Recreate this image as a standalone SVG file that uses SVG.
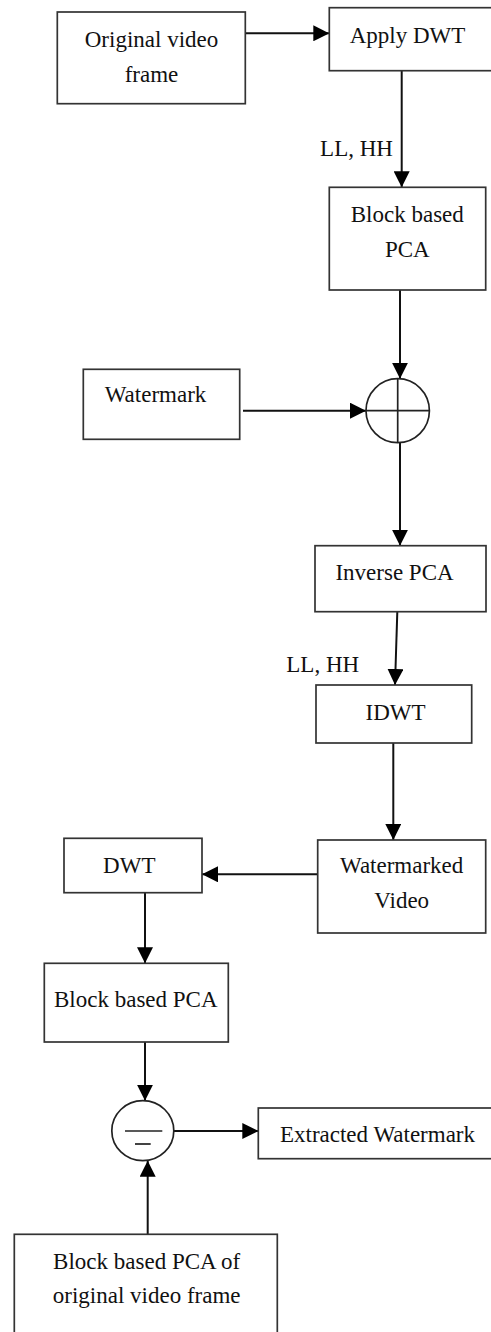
<svg xmlns="http://www.w3.org/2000/svg" width="491" height="1332" viewBox="0 0 491 1332">
<style>
.box{fill:#fff;stroke:#333;stroke-width:1.7}
.t{font-family:"Liberation Serif","Times New Roman",serif;font-size:23px;fill:#111;text-anchor:middle}
.c{stroke:#111;stroke-width:2;fill:none}
.sym{fill:#fff;stroke:#222;stroke-width:1.7}
.sl{stroke:#222;stroke-width:1.7}
</style>
<defs>
<marker id="ah" viewBox="0 0 16 16" refX="16" refY="8" markerWidth="16" markerHeight="16" markerUnits="userSpaceOnUse" orient="auto">
<path d="M0,0 L16,8 L0,16 z" fill="#000"/>
</marker>
</defs>
<rect width="491" height="1332" fill="#fff"/>
<g id="connectors">
<line class="c" x1="245.3" y1="33.3" x2="329.3" y2="33.3" marker-end="url(#ah)"/>
<line class="c" x1="401.7" y1="70.7" x2="401.7" y2="187.3" marker-end="url(#ah)"/>
<line class="c" x1="400" y1="290" x2="400" y2="378.7" marker-end="url(#ah)"/>
<line class="c" x1="243" y1="410.7" x2="366" y2="410.7" marker-end="url(#ah)"/>
<line class="c" x1="400" y1="442.7" x2="400" y2="545.7" marker-end="url(#ah)"/>
<line class="c" x1="397.3" y1="611.7" x2="395" y2="685" marker-end="url(#ah)"/>
<line class="c" x1="393.3" y1="743" x2="393.3" y2="840" marker-end="url(#ah)"/>
<line class="c" x1="317.7" y1="874.3" x2="202" y2="874.3" marker-end="url(#ah)"/>
<line class="c" x1="145" y1="892.7" x2="145" y2="963.3" marker-end="url(#ah)"/>
<line class="c" x1="145" y1="1042" x2="145" y2="1100.7" marker-end="url(#ah)"/>
<line class="c" x1="174" y1="1131" x2="258.3" y2="1131" marker-end="url(#ah)"/>
<line class="c" x1="147.7" y1="1234.3" x2="147.7" y2="1160.7" marker-end="url(#ah)"/>
<text class="t" x="356.5" y="156">LL, HH</text>
<text class="t" x="322.7" y="671.7">LL, HH</text>
</g>
<g id="original">
<rect class="box" x="57.3" y="12" width="188" height="91.7"/>
<text class="t" x="151.5" y="46.7">Original video</text>
<text class="t" x="151.5" y="81.7">frame</text>
</g>
<g id="applydwt">
<rect class="box" x="329.3" y="7.7" width="170" height="63"/>
<text class="t" x="407.5" y="43.3">Apply DWT</text>
</g>
<g id="blockpca1">
<rect class="box" x="329.3" y="187.3" width="156.4" height="102.7"/>
<text class="t" x="407.3" y="221.7">Block based</text>
<text class="t" x="407.3" y="256.7">PCA</text>
</g>
<g id="watermark">
<rect class="box" x="83.3" y="369.3" width="156.4" height="70"/>
<text class="t" x="155.5" y="402">Watermark</text>
</g>
<g id="adder">
<ellipse class="sym" cx="397.7" cy="410.7" rx="31.7" ry="32"/>
<line class="sl" x1="397.7" y1="378.7" x2="397.7" y2="442.7"/>
<line class="sl" x1="366" y1="410.7" x2="429.4" y2="410.7"/>
</g>
<g id="inversepca">
<rect class="box" x="315" y="545.7" width="171" height="66"/>
<text class="t" x="394.5" y="580">Inverse PCA</text>
</g>
<g id="idwt">
<rect class="box" x="316" y="685" width="155.7" height="58"/>
<text class="t" x="395.5" y="720">IDWT</text>
</g>
<g id="watermarkedvideo">
<rect class="box" x="317.7" y="840" width="168" height="93"/>
<text class="t" x="401.7" y="873.3">Watermarked</text>
<text class="t" x="401.7" y="908.3">Video</text>
</g>
<g id="dwt">
<rect class="box" x="64" y="838.3" width="138" height="54.4"/>
<text class="t" x="129.3" y="873.3">DWT</text>
</g>
<g id="blockpca2">
<rect class="box" x="44.3" y="963.3" width="184" height="78.7"/>
<text class="t" x="135.8" y="1006.7">Block based PCA</text>
</g>
<g id="subtractor">
<ellipse class="sym" cx="142.8" cy="1130.7" rx="31" ry="30"/>
<line class="sl" x1="125" y1="1131" x2="162.3" y2="1131"/>
<line class="sl" x1="135" y1="1144" x2="150.7" y2="1144"/>
</g>
<g id="extracted">
<rect class="box" x="258.3" y="1108" width="240" height="50.7"/>
<text class="t" x="377.5" y="1141.7">Extracted Watermark</text>
</g>
<g id="blockpcaorig">
<rect class="box" x="14.3" y="1234.3" width="263" height="110"/>
<text class="t" x="146.7" y="1269.3">Block based PCA of</text>
<text class="t" x="146.7" y="1303.3">original video frame</text>
</g>
</svg>
